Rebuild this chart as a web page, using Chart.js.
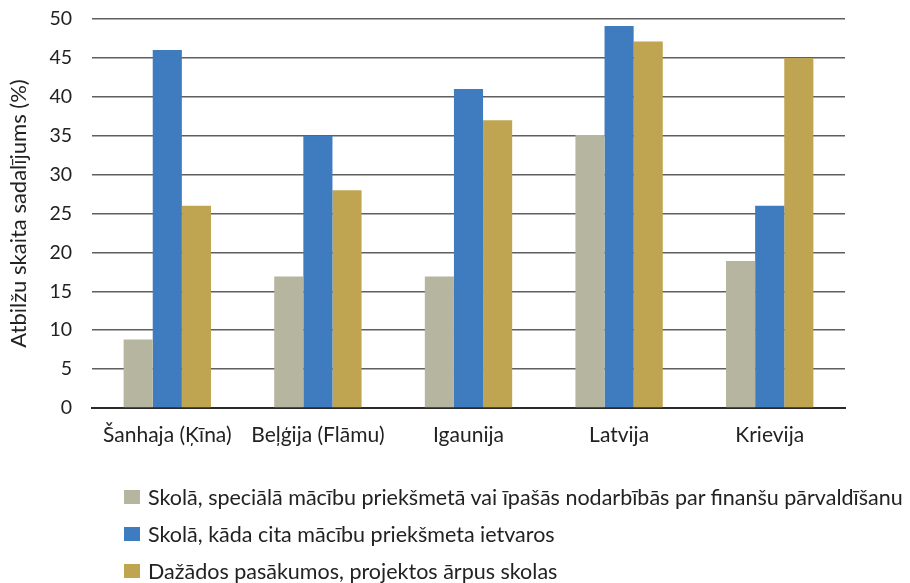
<!DOCTYPE html>
<html><head><meta charset="utf-8">
<script src="https://cdn.jsdelivr.net/npm/chart.js@4/dist/chart.umd.min.js"></script>
<style>
html,body{margin:0;padding:0;background:#fff;overflow:hidden;}
#wrap{position:relative;width:910px;height:583px;overflow:hidden;}
#legend{position:absolute;left:124px;top:478px;font-family:Lato,"Open Sans",sans-serif;font-size:21.5px;color:#222;}
#legend .it{display:flex;align-items:center;height:37px;white-space:nowrap;}
#legend .sw{width:16px;height:14px;margin-right:8px;flex:none;}
</style></head>
<body><div id="wrap"><canvas id="c" width="910" height="583"></canvas><div id="legend"></div></div>
<script>
const categories = ["Šanhaja (Ķīna)", "Beļģija (Flāmu)", "Igaunija", "Latvija", "Krievija"];
const seriesNames = [
  "Skolā, speciālā mācību priekšmetā vai īpašās nodarbībās par finanšu pārvaldīšanu",
  "Skolā, kāda cita mācību priekšmeta ietvaros",
  "Dažādos pasākumos, projektos ārpus skolas"
];
const specialSubject = [8.8, 16.9, 16.9, 35.1, 18.9];
const otherSubject = [46.0, 35.0, 41.0, 49.1, 26.0];
const outsideSchool = [26.0, 28.0, 37.0, 47.1, 45.0];
const yTicks = [0, 5, 10, 15, 20, 25, 30, 35, 40, 45, 50];
const yTitle = "Atbilžu skaita sadalījums (%)";
const colors = ["#B6B59F", "#3F7BBF", "#BFA451"];

const seriesValues = [specialSubject, otherSubject, outsideSchool];
const font = "Lato, 'Open Sans', sans-serif";

new Chart(document.getElementById('c'), {
  type: 'bar',
  data: {
    labels: categories,
    datasets: seriesValues.map((v, i) => ({
      label: seriesNames[i], data: v, backgroundColor: colors[i],
      categoryPercentage: 0.58, barPercentage: 1.0, borderWidth: 0
    }))
  },
  options: {
    responsive: false, animation: false,
    layout: { padding: { top: 19, right: 65, left: 0, bottom: 0 } },
    plugins: { legend: { display: false }, tooltip: { enabled: false } },
    scales: {
      x: {
        grid: { display: false, drawTicks: false },
        border: { display: true, color: '#2a2a2a', width: 2 },
        ticks: { color: '#222', font: { family: font, size: 21 }, padding: 15, maxRotation: 0, autoSkip: false },
        afterFit: s => { s.height = 175; }
      },
      y: {
        min: 0, max: 50,
        afterBuildTicks: s => { s.ticks = yTicks.map(v => ({ value: v })); },
        grid: { color: '#5f5f5f', lineWidth: 1.5, drawTicks: false },
        border: { display: false },
        ticks: { color: '#222', font: { family: font, size: 19.5 }, padding: 20 },
        title: { display: true, text: yTitle, color: '#222', font: { family: font, size: 22 }, padding: { top: 6, bottom: 0 } },
        afterFit: s => { s.width = 92; s.paddingTop = 0; s.paddingBottom = 0; }
      }
    }
  }
});

const lg = document.getElementById('legend');
seriesNames.forEach((n, i) => {
  const d = document.createElement('div'); d.className = 'it';
  const sw = document.createElement('span'); sw.className = 'sw'; sw.style.background = colors[i];
  const t = document.createElement('span'); t.textContent = n;
  d.appendChild(sw); d.appendChild(t); lg.appendChild(d);
});
</script></body></html>
